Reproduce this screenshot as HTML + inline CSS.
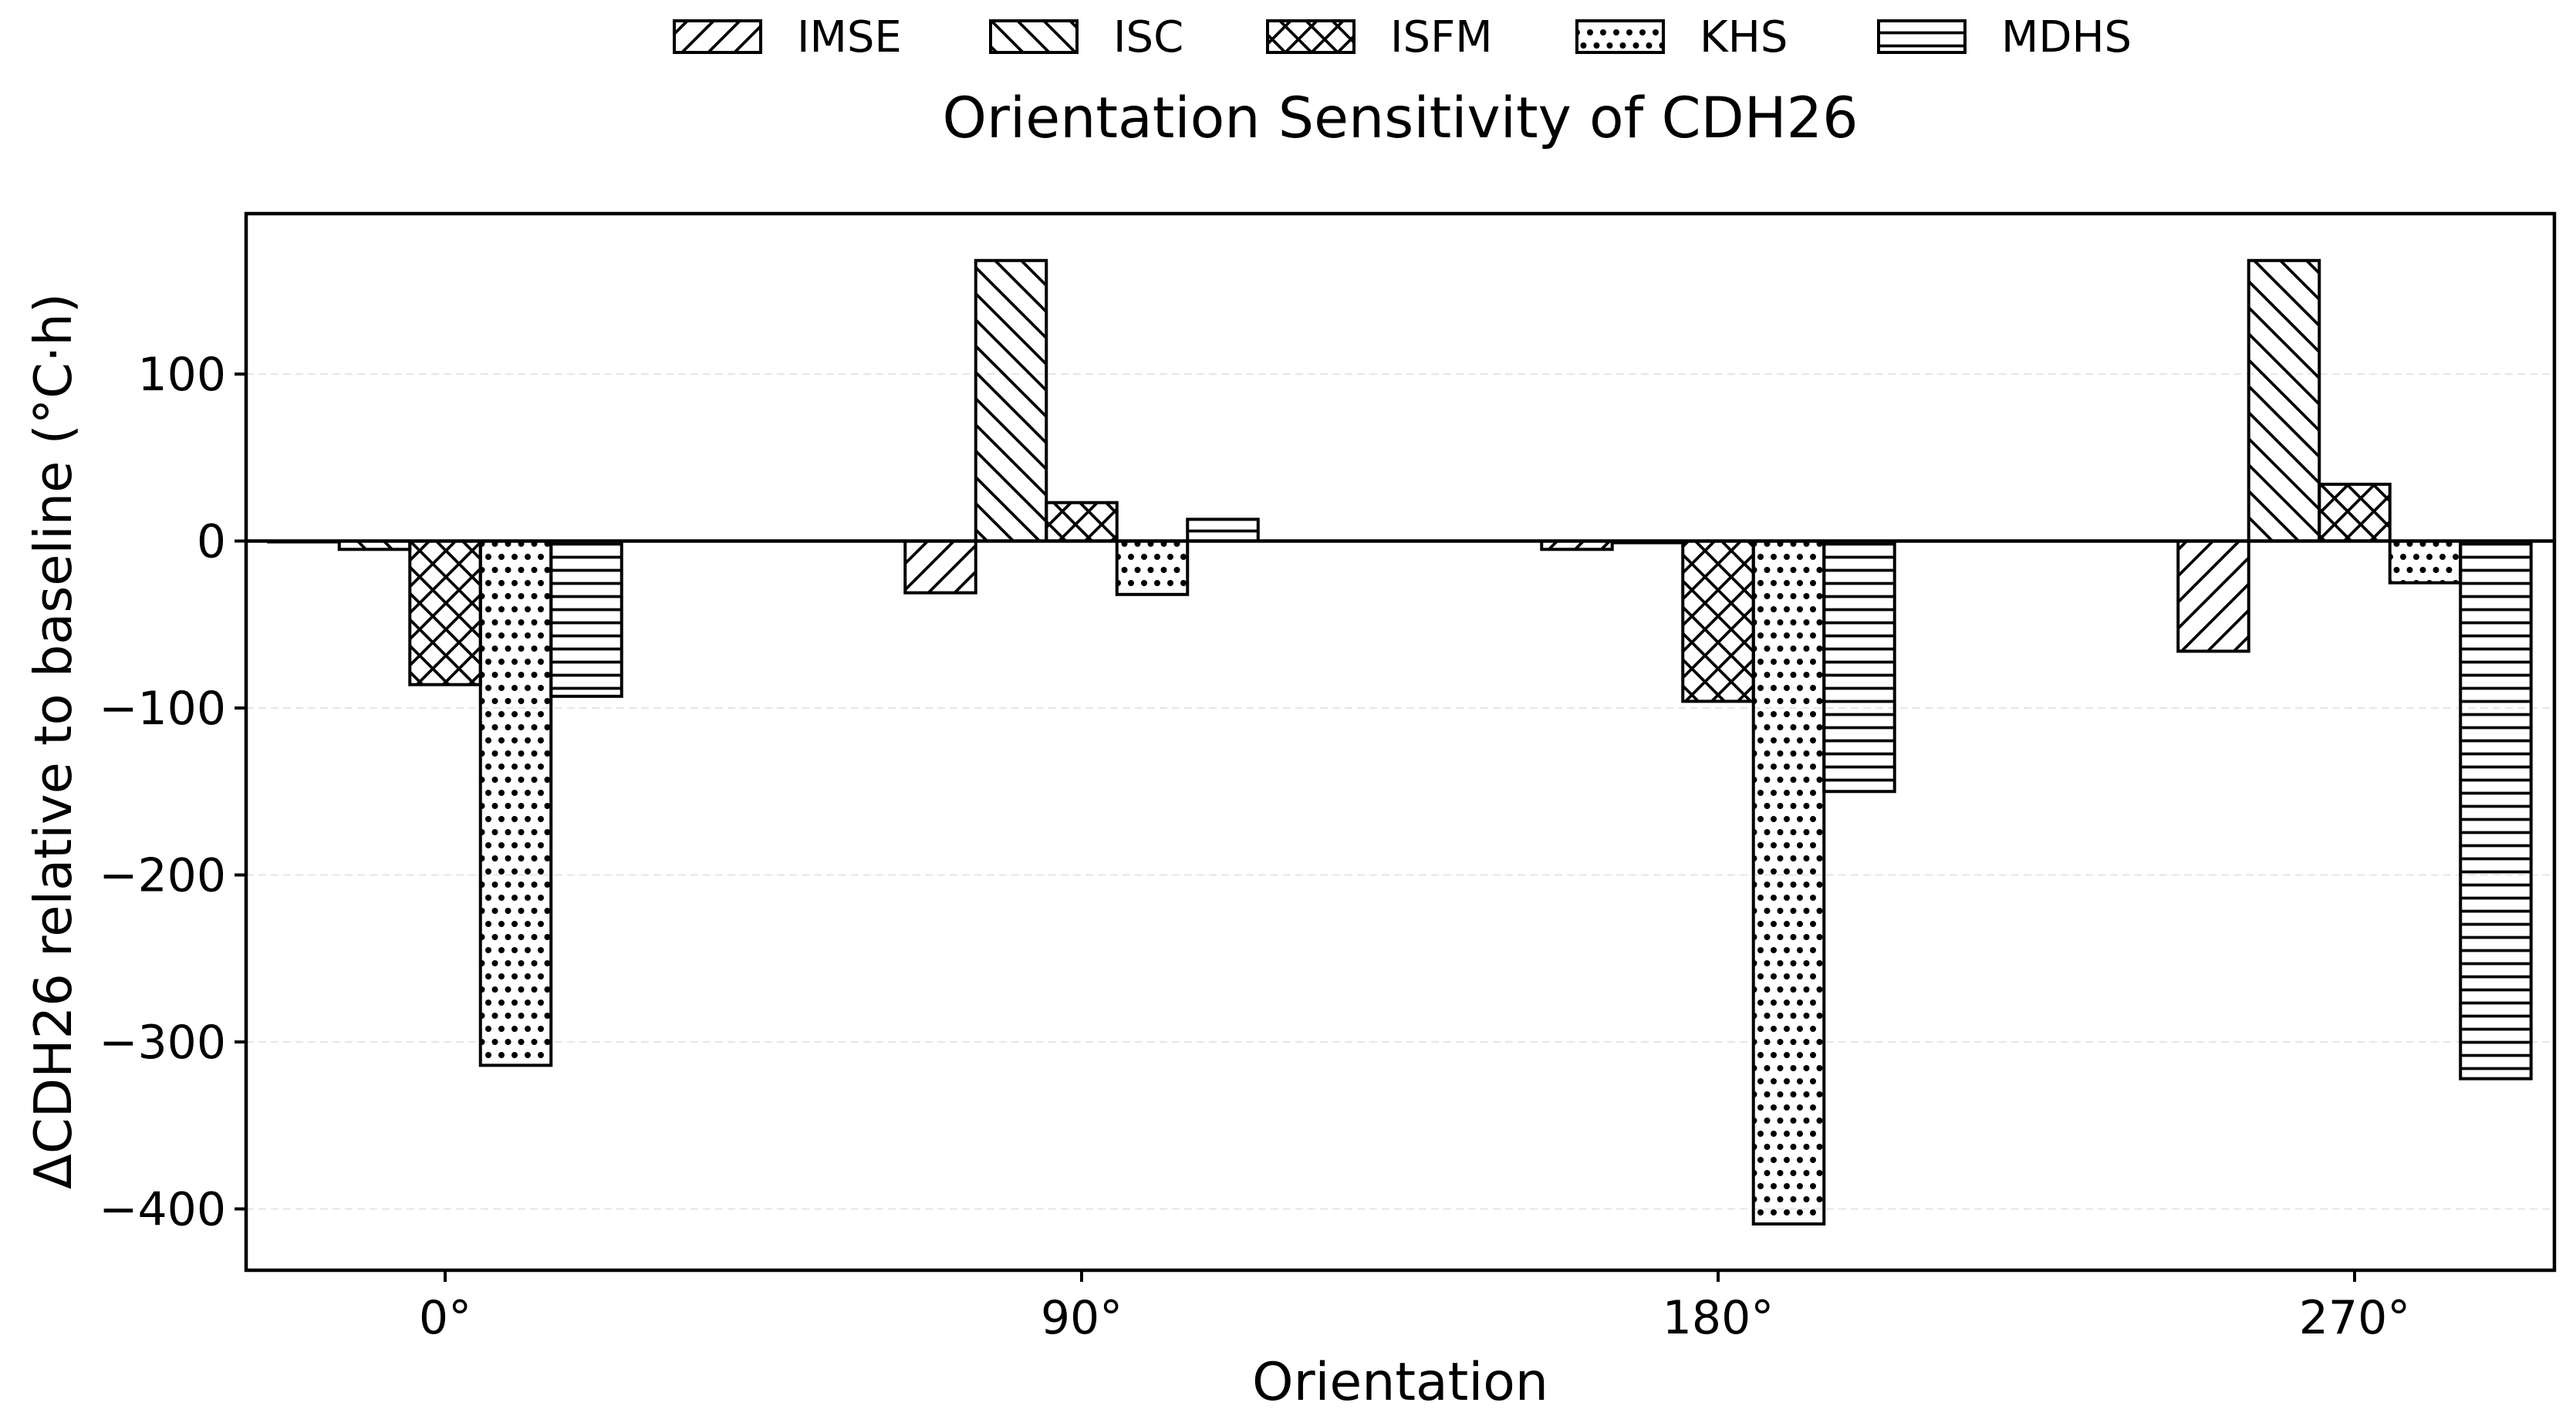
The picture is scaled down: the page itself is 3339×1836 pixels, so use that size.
<!DOCTYPE html>
<html><head><meta charset="utf-8"><style>
html,body{margin:0;padding:0;background:#fff;}
svg{display:block;font-family:"DejaVu Sans","Liberation Sans",sans-serif;}
</style></head><body>
<svg id="chart" width="3339" height="1836" viewBox="0 0 3339 1836" xmlns="http://www.w3.org/2000/svg">
<defs>
<pattern id="p-imse" patternUnits="userSpaceOnUse" width="34" height="34"><path d="M-8.5,8.5 L8.5,-8.5 M0,34 L34,0 M25.5,42.5 L42.5,25.5" stroke="#000" stroke-width="3.8"/></pattern>
<pattern id="p-isc" patternUnits="userSpaceOnUse" width="34" height="34"><path d="M-8.5,25.5 L8.5,42.5 M0,0 L34,34 M25.5,-8.5 L42.5,8.5" stroke="#000" stroke-width="3.8"/></pattern>
<pattern id="p-isfm" patternUnits="userSpaceOnUse" width="34" height="34"><path d="M-8.5,8.5 L8.5,-8.5 M0,34 L34,0 M25.5,42.5 L42.5,25.5 M-8.5,25.5 L8.5,42.5 M0,0 L34,34 M25.5,-8.5 L42.5,8.5" stroke="#000" stroke-width="3.8"/></pattern>
<pattern id="p-khs" patternUnits="userSpaceOnUse" width="17" height="34"><circle cx="4" cy="8" r="4" fill="#000"/><circle cx="12.5" cy="25" r="4" fill="#000"/></pattern>
<pattern id="p-mdhs" patternUnits="userSpaceOnUse" width="34" height="17"><path d="M0,8.5 L34,8.5" stroke="#000" stroke-width="3.8"/></pattern>
</defs>
<g id="grid"></g>
<g id="bars"></g>
<g id="axes"></g>
<g id="legend"></g>
<text x="1815" y="178" text-anchor="middle" font-size="73">Orientation Sensitivity of CDH26</text>
<text x="1815" y="1815" text-anchor="middle" font-size="68">Orientation</text>
<text transform="translate(92,961) rotate(-90)" text-anchor="middle" font-size="67">ΔCDH26 relative to baseline (°C·h)</text>
</svg>
<script>
const categories = ["0°", "90°", "180°", "270°"];
const seriesNames = ["IMSE", "ISC", "ISFM", "KHS", "MDHS"];
const imse = [-0.5, -31, -5, -66];
const isc  = [-5, 168, -1, 168];
const isfm = [-86, 23, -96, 34];
const khs  = [-314, -32, -409, -25];
const mdhs = [-93, 13, -150, -322];
const yTicks = [100, 0, -100, -200, -300, -400];
const yTickLabels = ["100", "0", "\u2212100", "\u2212200", "\u2212300", "\u2212400"];

const NS = "http://www.w3.org/2000/svg";
const L = 319, R = 3311, T = 277, B = 1647;
const series = [imse, isc, isfm, khs, mdhs];
const pats = ["p-imse", "p-isc", "p-isfm", "p-khs", "p-mdhs"];
function yS(v){ return 701.5 - v * 2.165; }
function xS(i){ return 577 + i * 825; }
const bw = 91.5;
function mk(tag, attrs, parent){ const e = document.createElementNS(NS, tag); for (const k in attrs) e.setAttribute(k, attrs[k]); parent.appendChild(e); return e; }

const grid = document.getElementById('grid');
yTicks.forEach(function(v){
  const g = mk('line', {x1:L, x2:R, y1:yS(v), y2:yS(v), stroke:'#e6e6e6', 'stroke-width':2, 'stroke-dasharray':'10,6'}, grid);
  
  
});

const barsG = document.getElementById('bars');
series.forEach(function(s, si){
  s.forEach(function(v, ci){
    const x = xS(ci) - 2.5 * bw + si * bw;
    const y0 = yS(0), y1 = yS(v);
    const r = mk('rect', {x:x, y:Math.min(y0,y1), width:bw, height:Math.abs(y1-y0), fill:'url(#'+pats[si]+')', stroke:'#000', 'stroke-width':4}, barsG);
    
    
  });
});

const axes = document.getElementById('axes');
const zl = mk('line', {x1:L, x2:R, y1:yS(0), y2:yS(0), stroke:'#000', 'stroke-width':4.5}, axes);


const frame = mk('rect', {x:L, y:T, width:R-L, height:B-T, fill:'none', stroke:'#000', 'stroke-width':4.5}, axes);


yTicks.forEach(function(v, i){
  const tk = mk('line', {x1:L-15, x2:L, y1:yS(v), y2:yS(v), stroke:'#000', 'stroke-width':4}, axes);
  
  
  const t = mk('text', {x:L-26, y:yS(v)+21, 'text-anchor':'end', 'font-size':60}, axes);
  t.textContent = yTickLabels[i];
  
  
});
categories.forEach(function(c, i){
  const tk = mk('line', {x1:xS(i), x2:xS(i), y1:B, y2:B+15, stroke:'#000', 'stroke-width':4}, axes);
  
  
  const t = mk('text', {x:xS(i), y:B+82, 'text-anchor':'middle', 'font-size':60}, axes);
  t.textContent = c;
  
  
});

const leg = document.getElementById('legend');
const patchX = [874, 1284, 1643, 2044, 2435];
seriesNames.forEach(function(n, i){
  const g = mk('g', {}, leg);
  
  
  mk('rect', {x:patchX[i], y:27, width:112, height:41, fill:'url(#'+pats[i]+')', stroke:'#000', 'stroke-width':4}, g);
  const t = mk('text', {x:patchX[i]+159, y:67, 'font-size':56}, g);
  t.textContent = n;
});
</script>
</body></html>
